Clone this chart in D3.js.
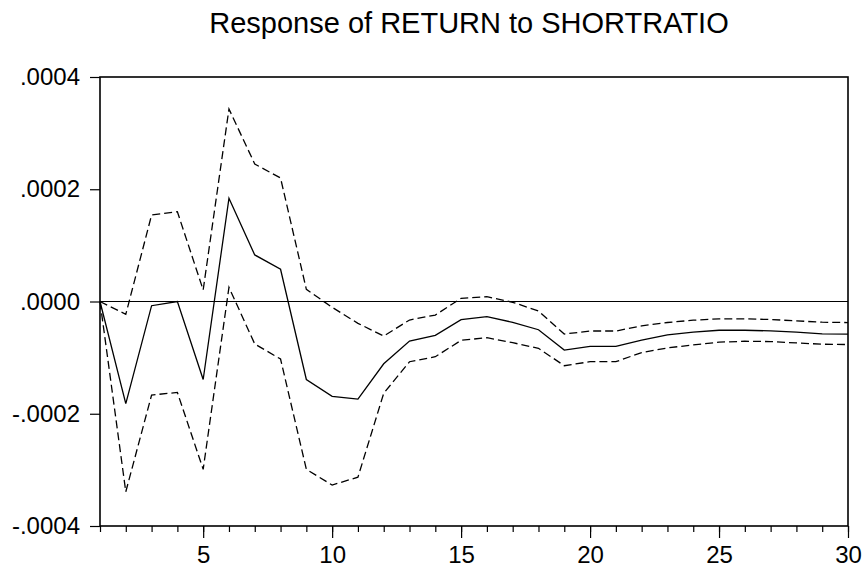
<!DOCTYPE html>
<html>
<head>
<meta charset="utf-8">
<script src="https://cdn.jsdelivr.net/npm/d3@7"></script>
<style>
  body { margin: 0; background: #fff; }
  svg text { font-family: "Liberation Sans", Arial, sans-serif; fill: #000; }
</style>
</head>
<body>
<div class="chart_area"></div>
<script>
// impulse response data
var periods = d3.range(1, 31);
var response = [0, -0.000182, -0.0000075, 0, -0.000139, 0.000184, 0.000083, 0.0000574, -0.000139, -0.000169,
  -0.000174, -0.000111, -0.0000704, -0.0000603, -0.0000324, -0.0000271, -0.0000371, -0.0000503, -0.0000865, -0.00008,
  -0.00008, -0.000069, -0.0000595, -0.0000547, -0.0000512, -0.0000512, -0.0000524, -0.0000547, -0.0000577, -0.000058];
var upper = [0, -0.0000228, 0.000154, 0.00016, 0.0000205, 0.000343, 0.000245, 0.00022, 0.0000217, -0.0000103,
  -0.0000389, -0.0000615, -0.000033, -0.0000241, 0.0000057, 0.0000086, -0.0000014, -0.0000169, -0.000058, -0.0000526,
  -0.0000526, -0.0000434, -0.0000374, -0.0000333, -0.0000309, -0.0000309, -0.0000321, -0.0000345, -0.0000369, -0.0000375];
var lower = [0, -0.000339, -0.0001667, -0.000162, -0.000299, 0.0000253, -0.0000758, -0.0001025, -0.000299, -0.000327,
  -0.000313, -0.0001636, -0.0001073, -0.0000984, -0.0000692, -0.0000645, -0.0000734, -0.0000834, -0.0001144, -0.0001073,
  -0.0001073, -0.0000909, -0.0000827, -0.0000773, -0.0000725, -0.0000708, -0.0000714, -0.0000738, -0.0000761, -0.0000767];
var yTicks = [-0.0004, -0.0002, 0, 0.0002, 0.0004];
var yTickLabels = ["-.0004", "-.0002", ".0000", ".0002", ".0004"];
var xMajorTicks = [5, 10, 15, 20, 25, 30];
var title = "Response of RETURN to SHORTRATIO";

var width = 864, height = 572;
var margin = {top: 77, right: 16, bottom: 46, left: 100};
var w = width - margin.left - margin.right,
    h = height - margin.top - margin.bottom;

var svg = d3.select(".chart_area").append("svg")
    .attr("width", width)
    .attr("height", height);

svg.append("text")
    .attr("x", 469)
    .attr("y", 33)
    .attr("text-anchor", "middle")
    .style("font-size", "29px")
    .text(title);

var g = svg.append("g")
    .attr("transform", "translate(" + margin.left + "," + margin.top + ")");

var x = d3.scaleLinear().domain([1, 30]).range([0, w]);
var y = d3.scaleLinear().domain([-0.0004, 0.0004]).range([h, 0]);

// y axis
var yAxis = g.append("g")
    .call(d3.axisLeft(y).tickValues(yTicks).tickSize(10).tickPadding(10)
      .tickFormat(function (d, i) { return yTickLabels[i]; }));
yAxis.select(".domain").remove();
yAxis.selectAll("text").style("font-size", "24px");

// x axis: minor ticks every period, major ticks labelled
var xMinor = g.append("g")
    .attr("transform", "translate(0," + h + ")")
    .call(d3.axisBottom(x).tickValues(periods).tickSize(6).tickFormat(""));
xMinor.select(".domain").remove();

var xMajor = g.append("g")
    .attr("transform", "translate(0," + h + ")")
    .call(d3.axisBottom(x).tickValues(xMajorTicks).tickSize(12).tickPadding(8).tickFormat(d3.format("d")));
xMajor.select(".domain").remove();
xMajor.selectAll("text").style("font-size", "24px");

g.selectAll(".tick line").style("stroke", "#000").style("stroke-width", 1.2);

// zero line
g.append("line")
    .attr("x1", 0).attr("x2", w)
    .attr("y1", y(0)).attr("y2", y(0))
    .style("stroke", "#000")
    .style("stroke-width", 1);

var line = d3.line()
    .x(function (d, i) { return x(periods[i]); })
    .y(function (d) { return y(d); });

[upper, lower].forEach(function (band) {
  g.append("path")
      .datum(band)
      .attr("d", line)
      .style("fill", "none")
      .style("stroke", "#000")
      .style("stroke-width", 1.3)
      .style("stroke-dasharray", "8,4");
});

g.append("path")
    .datum(response)
    .attr("d", line)
    .style("fill", "none")
    .style("stroke", "#000")
    .style("stroke-width", 1.3);

// frame
g.append("rect")
    .attr("x", 0).attr("y", 0)
    .attr("width", w).attr("height", h)
    .style("fill", "none")
    .style("stroke", "#000")
    .style("stroke-width", 1.6);
</script>
</body>
</html>
